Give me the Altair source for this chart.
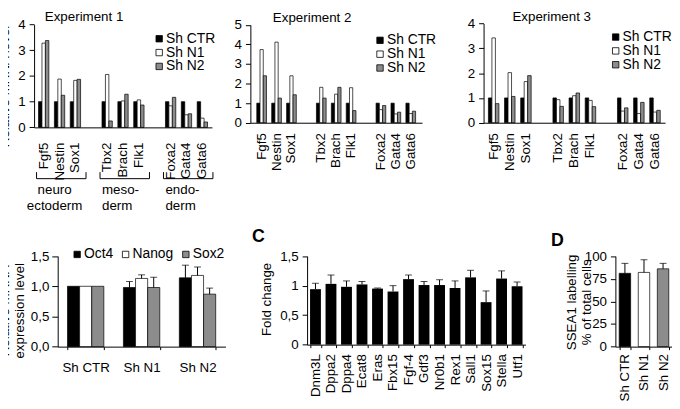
import altair as alt
import pandas as pd

FONT = "Liberation Sans"

# ---------------- data ----------------
series = ["Sh CTR", "Sh N1", "Sh N2"]
exp_genes = ["Fgf5", "Nestin", "Sox1", "Tbx2", "Brach", "Flk1", "Foxa2", "Gata4", "Gata6"]
exp_slots = ["Fgf5", "Nestin", "Sox1", " ", "Tbx2", "Brach", "Flk1", "  ", "Foxa2", "Gata4", "Gata6"]

exp1_ctr = [1.0, 1.0, 1.0, 1.0, 1.0, 1.0, 1.0, 1.0, 1.0]
exp1_n1 = [3.28, 1.88, 1.83, 2.06, 1.03, 1.07, 0.84, 0.49, 0.36]
exp1_n2 = [3.38, 1.25, 1.87, 0.25, 1.29, 0.87, 1.17, 0.53, 0.21]

exp2_ctr = [1.0, 1.0, 1.0, 1.0, 1.0, 1.0, 1.0, 1.0, 1.0]
exp2_n1 = [3.74, 4.12, 2.40, 1.81, 1.46, 1.79, 0.67, 0.45, 0.47]
exp2_n2 = [2.40, 1.26, 1.43, 1.26, 1.81, 0.62, 0.88, 0.54, 0.59]

exp3_ctr = [1.0, 1.0, 1.0, 1.0, 1.0, 1.0, 1.0, 1.0, 1.0]
exp3_n1 = [3.42, 2.02, 1.66, 0.93, 1.09, 0.90, 0.47, 0.37, 0.43]
exp3_n2 = [0.77, 1.06, 1.90, 0.66, 1.20, 0.65, 0.60, 0.82, 0.50]

germ_first = ["Fgf5", "Tbx2", "Foxa2"]
germ_last = ["Sox1", "Flk1", "Gata6"]
germ_labels = ["neuro\nectoderm", "meso-\nderm", "endo-\nderm"]

b_groups = ["Sh CTR", "Sh N1", "Sh N2"]
b_series = ["Oct4", "Nanog", "Sox2"]
b_oct4 = [1.0, 0.98, 1.14]
b_oct4_err = [0.0, 0.10, 0.21]
b_nanog = [1.0, 1.13, 1.18]
b_nanog_err = [0.0, 0.06, 0.14]
b_sox2 = [1.0, 0.98, 0.87]
b_sox2_err = [0.0, 0.17, 0.10]

c_genes = ["Dnm3L", "Dppa2", "Dppa4", "Ecat8", "Eras", "Fbx15", "Fgf-4", "Gdf3",
           "Nr0b1", "Rex1", "Sall1", "Sox15", "Stella", "Utf1"]
c_vals = [0.94, 1.03, 0.98, 1.02, 0.95, 0.90, 1.11, 1.01, 1.01, 0.96, 1.14, 0.72, 1.12, 0.99]
c_errs = [0.10, 0.15, 0.10, 0.05, 0.01, 0.10, 0.07, 0.06, 0.09, 0.12, 0.12, 0.19, 0.13, 0.07]

d_groups = ["Sh CTR", "Sh N1", "Sh N2"]
d_vals = [81, 82, 86]
d_errs = [11, 14, 6]

COLORS = ["black", "white", "#8c8c8c"]
H = 401
E1_RANGE = [26.4, 206.4]
E1_POUT = 0.28


def legend(lx, ly, **kw):
    return alt.Legend(orient="none", legendX=lx, legendY=ly, title=None,
                      symbolType="square", symbolSize=42, symbolStrokeColor="black",
                      symbolStrokeWidth=0.8, labelFontSize=14, labelFont=FONT,
                      rowPadding=0, padding=0, labelOffset=0, **kw)


def exp_panel(ctr, n1, n2, ymax, xr, p_out, yr, label_pad, title, txy, lxy):
    rows = []
    for s, vals in zip(series, [ctr, n1, n2]):
        for g, v in zip(exp_genes, vals):
            rows.append({"gene": g, "series": s, "val": v})
    df = pd.DataFrame(rows)
    yaxis = alt.Axis(orient="left", offset=-xr[0], values=list(range(ymax + 1)),
                     format="d", tickSize=5, labelPadding=4, labelFontSize=13.5,
                     title=None, zindex=1, domain=True, ticks=True,
                     domainColor="black", tickColor="black", domainWidth=1, tickWidth=1)
    xaxis = alt.Axis(orient="bottom", offset=yr[0] - H, title=None, ticks=False,
                     labelAngle=270, labelAlign="right", labelBaseline="middle",
                     labelPadding=label_pad, labelFontSize=13.5, labelOverlap=False, zindex=1,
                     domain=True, domainColor="black", domainWidth=1)
    xscale = alt.Scale(domain=exp_slots, range=xr, paddingInner=0.35, paddingOuter=p_out)
    bars = alt.Chart(df).mark_bar(stroke="black", strokeWidth=0.7).encode(
        x=alt.X("gene:N", sort=exp_slots, scale=xscale, axis=xaxis),
        xOffset=alt.XOffset("series:N", sort=series, scale=alt.Scale(domain=series)),
        y=alt.Y("val:Q", scale=alt.Scale(domain=[0, ymax], range=yr, nice=False), axis=yaxis),
        color=alt.Color("series:N", scale=alt.Scale(domain=series, range=COLORS),
                        legend=legend(lxy[0], lxy[1])),
    )
    ttl = alt.Chart(pd.DataFrame({"t": [title]})).mark_text(
        fontSize=13.5, font=FONT, align="center", baseline="middle", color="black"
    ).encode(text="t:N", x=alt.value(txy[0]), y=alt.value(txy[1]))
    return alt.layer(bars, ttl)


p1 = exp_panel(exp1_ctr, exp1_n1, exp1_n2, 4, E1_RANGE, E1_POUT, [118.4, 14.4], 15,
               "Experiment 1", (77, 6.5), (146, 21.7))
p2 = exp_panel(exp2_ctr, exp2_n1, exp2_n2, 5, [245.3, 419], 0.43, [113.7, 14.7], 10,
               "Experiment 2", (307.8, 8), (369.5, 23.3))
p3 = exp_panel(exp3_ctr, exp3_n1, exp3_n2, 4, [481.3, 665], 0.3, [113.7, 13.3], 10,
               "Experiment 3", (550.3, 6.7), (608, 20))

# y title of panel A (cut by the left edge, as in the figure)
a_ytitle = alt.Chart(pd.DataFrame({"t": ["Relative mRNA level"]})).mark_text(
    fontSize=13.5, font=FONT, align="center", baseline="middle", angle=270, color="black"
).encode(text="t:N", x=alt.value(-3), y=alt.value(77))

# brackets under experiment 1, on a gene scale identical to experiment 1's
gdf = pd.DataFrame({"first": germ_first, "last": germ_last, "label": germ_labels})
g_scale = alt.Scale(type="band", domain=exp_slots, range=E1_RANGE, paddingInner=0.35,
                    paddingOuter=E1_POUT)
br_h = alt.Chart(gdf).mark_rule(color="black", strokeWidth=1, xOffset=-2, x2Offset=5.5).encode(
    x=alt.X("first:N", bandPosition=0, scale=g_scale, axis=None),
    x2=alt.X2("last:N", bandPosition=1), y=alt.value(170.3))
br_l = alt.Chart(gdf).mark_rule(color="black", strokeWidth=1, xOffset=-2).encode(
    x=alt.X("first:N", bandPosition=0, scale=g_scale, axis=None),
    y=alt.value(163.7), y2=alt.value(170.3))
br_r = alt.Chart(gdf).mark_rule(color="black", strokeWidth=1, xOffset=5.5).encode(
    x=alt.X("last:N", bandPosition=1, scale=g_scale, axis=None),
    y=alt.value(163.7), y2=alt.value(170.3))
lab_neuro = alt.Chart(pd.DataFrame({"first": ["Nestin"], "label": [germ_labels[0]]})).mark_text(
    fontSize=13.5, font=FONT, align="center", baseline="top", lineBreak="\n", lineHeight=16, dx=-5
).encode(text="label:N", x=alt.X("first:N", bandPosition=0.5, scale=g_scale, axis=None),
         y=alt.value(175))
lab_other = alt.Chart(gdf.iloc[1:]).mark_text(
    fontSize=13.5, font=FONT, align="left", baseline="top", lineBreak="\n", lineHeight=16
).encode(text="label:N", x=alt.X("first:N", bandPosition=0, scale=g_scale, axis=None),
         y=alt.value(175))
pG = alt.layer(br_h, br_l, br_r, lab_neuro, lab_other, a_ytitle)

# ---------------- panel B ----------------
brows = []
for s, vals, errs in zip(b_series, [b_oct4, b_nanog, b_sox2], [b_oct4_err, b_nanog_err, b_sox2_err]):
    for g, v, e in zip(b_groups, vals, errs):
        brows.append({"group": g, "series": s, "val": v, "hi": v + e, "err": e})
bdf = pd.DataFrame(brows)
b_xaxis = alt.Axis(orient="bottom", offset=340.3 - H, title=None, labelAngle=0,
                   tickBand="extent", tickSize=3, labelPadding=11, labelFontSize=13.5, zindex=1)
b_yaxis = alt.Axis(orient="left", offset=-50.3, values=[0, 0.5, 1, 1.5],
                   labelExpr="replace(format(datum.value, '.1f'), '.', ',')",
                   tickSize=6, labelPadding=3, labelFontSize=13.5, zindex=1,
                   title=["Relative mRNA", "expression level"], titleX=-53.3, titleY=303.5,
                   titleAngle=270, titleBaseline="middle", titleAlign="center",
                   titleFontSize=13.5, titleLineHeight=15)
b_bars = alt.Chart(bdf).mark_bar(stroke="black", strokeWidth=0.7).encode(
    x=alt.X("group:N", sort=b_groups,
            scale=alt.Scale(domain=b_groups, range=[50.3, 220.1], paddingInner=0.35, paddingOuter=0.175),
            axis=b_xaxis),
    xOffset=alt.XOffset("series:N", sort=b_series, scale=alt.Scale(domain=b_series)),
    y=alt.Y("val:Q", scale=alt.Scale(domain=[0, 1.5], range=[340.3, 248.7], nice=False), axis=b_yaxis),
    color=alt.Color("series:N", scale=alt.Scale(domain=b_series, range=COLORS),
                    legend=legend(63, 240, direction="horizontal", columnPadding=5)),
)
b_err_df = bdf[bdf["err"] > 0]
b_err = alt.Chart(b_err_df).mark_rule(color="black", strokeWidth=1).encode(
    x=alt.X("group:N", sort=b_groups, axis=b_xaxis),
    xOffset=alt.XOffset("series:N", sort=b_series),
    y=alt.Y("val:Q", axis=b_yaxis), y2="hi:Q")
b_cap = alt.Chart(b_err_df).mark_tick(color="black", orient="horizontal", size=7, thickness=1).encode(
    x=alt.X("group:N", sort=b_groups, axis=b_xaxis),
    xOffset=alt.XOffset("series:N", sort=b_series),
    y=alt.Y("hi:Q", axis=b_yaxis))
pB = alt.layer(b_bars, b_err, b_cap)

# ---------------- panel C ----------------
cdf = pd.DataFrame({"gene": c_genes, "val": c_vals, "err": c_errs})
cdf["hi"] = cdf["val"] + cdf["err"]
c_xaxis = alt.Axis(orient="bottom", offset=338.3 - H, title=None, labelAngle=270,
                   labelAlign="right", labelBaseline="middle", tickBand="extent", tickSize=3,
                   labelPadding=6, labelFontSize=13.5, labelOverlap=False, zindex=1)
c_yaxis = alt.Axis(orient="left", offset=-302.7, values=[0, 0.5, 1, 1.5],
                   labelExpr="replace(format(datum.value, '.1~f'), '.', ',')",
                   tickSize=5, labelPadding=4, labelFontSize=13.5, zindex=1,
                   title="Fold change", titleX=-40.7, titleY=292, titleAngle=270,
                   titleBaseline="middle", titleAlign="center", titleFontSize=13.5)
c_bars = alt.Chart(cdf).mark_bar(color="black").encode(
    x=alt.X("gene:N", sort=c_genes,
            scale=alt.Scale(domain=c_genes, range=[302.7, 523.7], paddingInner=0.3, paddingOuter=0.19),
            axis=c_xaxis),
    y=alt.Y("val:Q", scale=alt.Scale(domain=[0, 1.5], range=[338.3, 248.7], nice=False), axis=c_yaxis),
)
c_err = alt.Chart(cdf).mark_rule(color="black", strokeWidth=1).encode(
    x=alt.X("gene:N", sort=c_genes, axis=c_xaxis), y=alt.Y("val:Q", axis=c_yaxis), y2="hi:Q")
c_cap = alt.Chart(cdf).mark_tick(color="black", orient="horizontal", size=7, thickness=1).encode(
    x=alt.X("gene:N", sort=c_genes, axis=c_xaxis), y=alt.Y("hi:Q", axis=c_yaxis))
c_letter = alt.Chart(pd.DataFrame({"t": ["C"]})).mark_text(
    fontSize=18, fontWeight="bold", font=FONT, align="center", baseline="middle", color="black"
).encode(text="t:N", x=alt.value(253.5), y=alt.value(229))
pC = alt.layer(c_bars, c_err, c_cap, c_letter)

# ---------------- panel D ----------------
ddf = pd.DataFrame({"group": d_groups, "val": d_vals, "err": d_errs})
ddf["hi"] = ddf["val"] + ddf["err"]
d_xaxis = alt.Axis(orient="bottom", offset=340.3 - H, title=None, labelAngle=270,
                   labelAlign="right", labelBaseline="middle", tickBand="extent", tickSize=3,
                   labelPadding=4, labelFontSize=13.5, labelOverlap=False, zindex=1)
d_yaxis = alt.Axis(orient="left", offset=-614.7, values=[0, 25, 50, 75, 100],
                   tickSize=5, labelPadding=4, labelFontSize=13.5, zindex=1,
                   title=["SSEA1 labelling", "% of total cells"], titleX=-44.2, titleY=295,
                   titleAngle=270, titleBaseline="middle", titleAlign="center",
                   titleFontSize=13.5, titleLineHeight=15)
d_bars = alt.Chart(ddf).mark_bar(stroke="black", strokeWidth=0.7).encode(
    x=alt.X("group:N", sort=d_groups,
            scale=alt.Scale(domain=d_groups, range=[614.7, 672.6], paddingInner=0.4, paddingOuter=0.2),
            axis=d_xaxis),
    y=alt.Y("val:Q", scale=alt.Scale(domain=[0, 100], range=[340.3, 248.7], nice=False), axis=d_yaxis),
    color=alt.Color("group:N", scale=alt.Scale(domain=d_groups, range=COLORS), legend=None),
)
d_err = alt.Chart(ddf).mark_rule(color="black", strokeWidth=1).encode(
    x=alt.X("group:N", sort=d_groups, axis=d_xaxis), y=alt.Y("val:Q", axis=d_yaxis), y2="hi:Q")
d_cap = alt.Chart(ddf).mark_tick(color="black", orient="horizontal", size=7, thickness=1).encode(
    x=alt.X("group:N", sort=d_groups, axis=d_xaxis), y=alt.Y("hi:Q", axis=d_yaxis))
d_letter = alt.Chart(pd.DataFrame({"t": ["D"]})).mark_text(
    fontSize=18, fontWeight="bold", font=FONT, align="center", baseline="middle", color="black"
).encode(text="t:N", x=alt.value(556), y=alt.value(233))
pD = alt.layer(d_bars, d_err, d_cap, d_letter)

chart = alt.layer(p1, pG, p2, p3, pB, pC, pD).resolve_scale(
    x="independent", y="independent", color="independent", xOffset="independent"
).resolve_axis(x="independent", y="independent").resolve_legend(color="independent").properties(
    width=672, height=H, padding=0, autosize=alt.AutoSizeParams(type="none")
).configure_view(stroke=None).configure_axis(
    grid=False, labelFont=FONT, titleFont=FONT, domainColor="black", tickColor="black",
    labelColor="black", titleColor="black", titleFontWeight="normal", domainWidth=1, tickWidth=1
).configure_text(font=FONT)

chart.save("out.html", embed_options={"renderer": "svg", "actions": False})
